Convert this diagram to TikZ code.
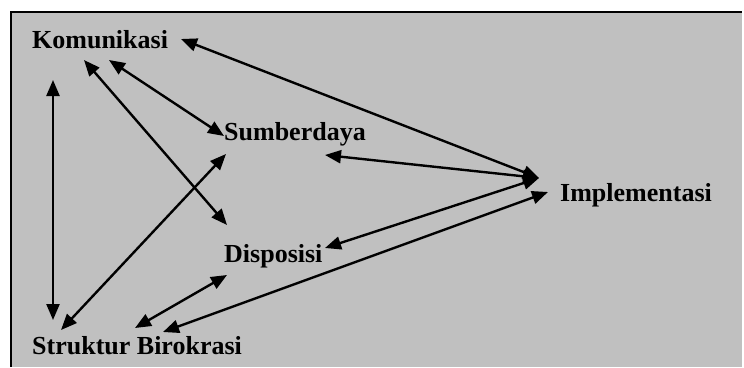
\documentclass[tikz,border=0pt]{standalone}
\usepackage{fontspec}
\setmainfont{Liberation Serif}
\usetikzlibrary{arrows.meta}
\definecolor{panel}{HTML}{C0C0C0}
\tikzset{
  lbl/.style={anchor=base west, inner sep=0pt, font=\fontsize{26}{30}\selectfont\bfseries},
  dar/.style={line width=2.4pt, {Triangle[length=16pt,width=13pt]}-{Triangle[length=16pt,width=13pt]}}
}
\begin{document}
\begin{tikzpicture}[x=1pt,y=-1pt]
\useasboundingbox (0,0) rectangle (744,367);
% panel and its frame
\fill[panel] (11,12) rectangle (742,367);
\draw[line width=2pt] (11,367) -- (11,12) -- (742,12);

% labels
\node[lbl] (kom) at (32,48) {Komunikasi};
\node[lbl] (sum) at (224,140) {Sumberdaya};
\node[lbl] (imp) at (560,201) {Implementasi};
\node[lbl] (dis) at (224,262) {Disposisi};
\node[lbl] (str) at (32,354) {Struktur Birokrasi};

% arrow ends
\coordinate (kA) at (53,80);
\coordinate (kB) at (84,60);
\coordinate (kC) at (109,60);
\coordinate (kD) at (181,39);
\coordinate (sA) at (224,136);
\coordinate (sB) at (226,154);
\coordinate (sC) at (325,155);
\coordinate (dA) at (227,225);
\coordinate (dB) at (325,248);
\coordinate (dC) at (227,275);
\coordinate (iA) at (539,178);
\coordinate (iB) at (548,192);
\coordinate (tA) at (53,320);
\coordinate (tB) at (61,330);
\coordinate (tC) at (135,328);
\coordinate (tD) at (163,332);

% connectors
\draw[dar] (kA) -- (tA);
\draw[dar] (kB) -- (dA);
\draw[dar] (kC) -- (sA);
\draw[dar] (kD) -- (iA);
\draw[dar] (sC) -- (iA);
\draw[dar] (dB) -- (iA);
\draw[dar] (sB) -- (tB);
\draw[dar] (dC) -- (tC);
\draw[dar] (tD) -- (iB);
\end{tikzpicture}
\end{document}
